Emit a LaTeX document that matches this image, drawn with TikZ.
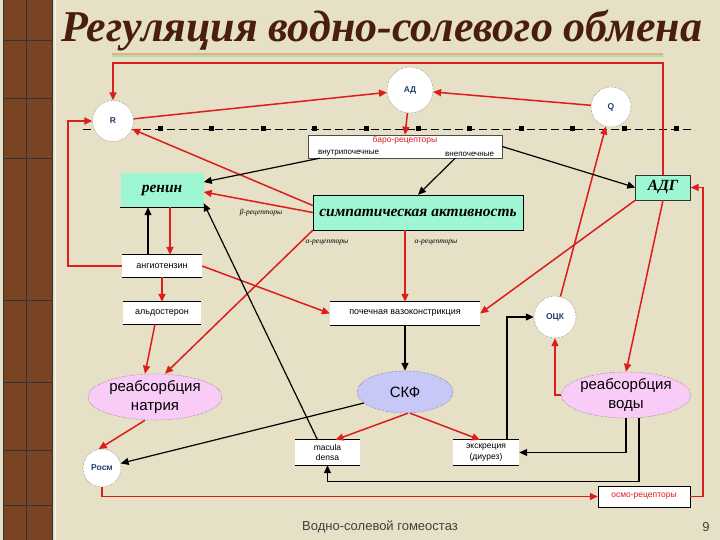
\documentclass[tikz,border=0pt]{standalone}
\usepackage{fontspec}
\setmainfont{Liberation Serif}
\setsansfont{Liberation Sans}
\usetikzlibrary{arrows.meta, shapes.geometric, positioning}
\definecolor{bgbeige}{HTML}{E6E0C6}
\definecolor{woodbr}{HTML}{7A4424}
\definecolor{titlebr}{HTML}{4A1E0C}
\definecolor{rgred}{HTML}{DD1C1C}
\definecolor{mintgr}{HTML}{9EF7D2}
\definecolor{pinkov}{HTML}{F8CCF6}
\definecolor{lilac}{HTML}{C8C8F8}
\definecolor{circtxt}{HTML}{1F3F6E}
\tikzset{
  >={Triangle[length=8pt, width=7pt]},
  redln/.style={->, draw=rgred, line width=1.5pt},
  blkln/.style={->, draw=black, line width=1.2pt},
  circ/.style={circle, fill=white, draw=black!70, densely dotted, thin, inner sep=0pt,
    font=\sffamily\bfseries\fontsize{8.5}{9}\selectfont, text=circtxt},
  mintbox/.style={rectangle, fill=mintgr, inner sep=0pt, font=\bfseries\itshape\fontsize{15.5}{18}\selectfont},
  whbox/.style={rectangle, fill=white, inner sep=0pt, align=center, font=\sffamily\fontsize{9}{10}\selectfont},
  oval/.style={ellipse, draw=black!70, densely dotted, thin, inner sep=0pt, align=center,
    font=\sffamily\fontsize{15}{18.5}\selectfont},
  rcpt/.style={inner sep=0pt, font=\itshape\fontsize{7.5}{8}\selectfont},
  smalltxt/.style={inner sep=0pt, font=\sffamily\fontsize{8.5}{9}\selectfont},
}
\begin{document}
\begin{tikzpicture}[x=1pt, y=-1pt]
  \useasboundingbox (0,0) rectangle (720,540);
  \fill[bgbeige] (0,0) rectangle (720,540);
  % wooden strip on the left
  \fill[woodbr] (3,0) rectangle (52,540);
  \draw[black!80, line width=0.8pt] (3,0) -- (3,540) (52,0) -- (52,540) (26,0) -- (26,540);
  \foreach \yy in {40,98,158,300,382,450,505}
    \draw[black!80, line width=0.8pt] (3,\yy) -- (52,\yy);
  \draw[white!70!bgbeige, line width=1pt] (55,0) -- (55,540);
  % title
  \node[anchor=base, inner sep=0pt, text=titlebr, font=\bfseries\itshape\fontsize{44}{44}\selectfont] (title) at (382,42) {Регуляция водно-солевого обмена};
  \draw[red!25!bgbeige, line width=1.2pt] (112,54) -- (663,54);
  \draw[green!25!bgbeige, line width=1.2pt] (112,56) -- (663,56);
  % dashed line with markers
  \draw[dash pattern=on 8pt off 4pt, line width=0.8pt] (83,129) -- (695,129);
  \foreach \i in {0,...,10}
    \fill ({157.5+51.6*\i},126.5) rectangle ++(5,5);

  % circles
  \node[circ, minimum size=41pt] (R) at (113,121) {R};
  \node[circ, minimum size=46pt] (AD) at (410,90) {АД};
  \node[circ, minimum size=40pt] (Q) at (611,107) {Q};
  \node[circ, minimum size=42pt] (OCK) at (555,317) {ОЦК};
  \node[circ, minimum size=38pt] (Rosm) at (102,468) {Росм};

  % baro-receptors
  \node[whbox, draw=black!70, minimum width=194pt, minimum height=23pt] (baro) at (405,146.5) {};
  \node[smalltxt, text=rgred, below=1.5pt of baro.north] (barot) {баро-рецепторы};
  \node[smalltxt, font=\sffamily\fontsize{8}{9}\selectfont, above right=1.5pt and 10pt of baro.south west] (baroin) {внутрипочечные};
  \node[smalltxt, font=\sffamily\fontsize{8}{9}\selectfont, above left=1.5pt and 8pt of baro.south east] (baroex) {внепочечные};

  % green boxes
  \node[mintbox, minimum width=83pt, minimum height=34pt] (ren) at (162,190) {ренин};
  \node[mintbox, draw=black, thin, minimum width=210pt, minimum height=35pt] (symp) at (418,212.5) {симпатическая активность};
  \node[mintbox, draw=black!80, thin, minimum width=55pt, minimum height=25pt] (ADG) at (663,187.5) {АДГ};
  \draw[black, line width=0.8pt] (ren.south west) -- (ren.south east);

  % white boxes
  \node[whbox, minimum width=80pt, minimum height=22pt] (ang) at (162,266) {ангиотензин};
  \node[whbox, minimum width=78pt, minimum height=22pt] (ald) at (162,313) {альдостерон};
  \node[whbox, minimum width=150pt, minimum height=23pt] (vaso) at (405,313.5) {почечная вазоконстрикция};
  \node[whbox, minimum width=65pt, minimum height=25pt, font=\sffamily\fontsize{8.5}{10.5}\selectfont] (mac) at (327.5,452.5) {macula\\densa};
  \node[whbox, minimum width=66pt, minimum height=25pt, font=\sffamily\fontsize{8.5}{10.5}\selectfont] (exc) at (486,452.5) {экскреция\\(диурез)};
  \node[whbox, draw=black, minimum width=92pt, minimum height=21pt, text=rgred, font=\sffamily\fontsize{8.5}{9}\selectfont] (osmo) at (644,496.5) {осмо-рецепторы};
  \foreach \n in {ang,ald,vaso,mac,exc}
    \draw[black, line width=0.8pt] (\n.north west) -- (\n.north east) (\n.south west) -- (\n.south east);

  % ovals
  \node[oval, fill=pinkov, minimum width=134pt, minimum height=44pt] (natr) at (155,397) {реабсорбция\\натрия};
  \node[oval, fill=lilac, minimum width=96pt, minimum height=42pt] (skf) at (405,392) {СКФ};
  \node[oval, fill=pinkov, minimum width=128pt, minimum height=46pt] (vody) at (626,395) {реабсорбция\\воды};

  % receptor labels
  \node[rcpt] (beta) at (261,213) {β-рецепторы};
  \node[rcpt] (alphal) at (327,243) {α-рецепторы};
  \node[rcpt] (alphar) at (436,243) {α-рецепторы};

  % footer
  \node[font=\sffamily\fontsize{13}{14}\selectfont, text=black!75] (foot) at (380,527) {Водно-солевой гомеостаз};
  \node[font=\sffamily\fontsize{13}{14}\selectfont, text=black!75] (pgno) at (706,527) {9};

  % red links
  \coordinate (ctop) at (0,63);
  \coordinate (cleft) at (68,0);
  \draw[redln] (ADG.north) |- (R.north |- ctop) -- (R.north);
  \draw[redln] (ang.west) -- (ang.west -| cleft) |- (R.west);
  \draw[redln] (R) -- (AD);
  \draw[redln] (Q) -- (AD);
  \draw[redln] (AD) -- (baro.north);
  \draw[redln] (OCK) -- (Q);
  \draw[redln] ([yshift=7pt]symp.west) -- (R);
  \draw[redln] (symp.west) -- ([yshift=-2pt]ren.east);
  \draw[redln] (symp.south west) -- ([xshift=10pt]natr.north);
  \draw[redln] (symp.south -| vaso.north) -- (vaso.north);
  \draw[redln] ([xshift=8pt]ren.south) -- ([xshift=8pt]ang.north);
  \draw[redln] (ang.south) -- (ald.north);
  \draw[redln] ([xshift=-7pt]ald.south) -- ([xshift=-10pt]natr.north);
  \draw[redln] (ang.east) -- (vaso.west);
  \draw[redln] (ADG.south west) -- (vaso.east);
  \draw[redln] (ADG.south) -- (vody.north);
  \draw[redln] (vody.west) -| (OCK.south);
  \draw[redln] ([xshift=3pt]skf.south) -- ([xshift=8pt]mac.north);
  \draw[redln] ([xshift=5pt]skf.south) -- ([xshift=-6pt]exc.north);
  \draw[redln] ([xshift=-10pt]natr.south) -- (Rosm.100);
  \draw[redln] (Rosm.south) |- (osmo.west);
  \draw[redln] (osmo.east) -- ++(13,0) |- (ADG.east);
  % black links
  \draw[blkln] ([xshift=12pt]baro.south west) -- ([yshift=8pt]ren.east);
  \draw[blkln] ([xshift=-47pt]baro.south east) -- (symp.north);
  \draw[blkln] (baro.east) -- (ADG.west);
  \draw[blkln] ([xshift=-14pt]ang.north) -- ([xshift=-14pt]ren.south);
  \draw[blkln] (vaso.south) -- (skf.north);
  \draw[blkln] ([xshift=-10pt]mac.north) -- ([yshift=4pt]ren.south east);
  \draw[blkln] (skf.195) -- (Rosm);
  \draw[blkln] ([xshift=21pt]exc.north) |- (OCK.west);
  \draw[blkln] (vody.south) |- (exc.east);
  \draw[blkln] ([xshift=13pt]vody.south) -- ++(0,63) -| (mac.south);
\end{tikzpicture}
\end{document}
